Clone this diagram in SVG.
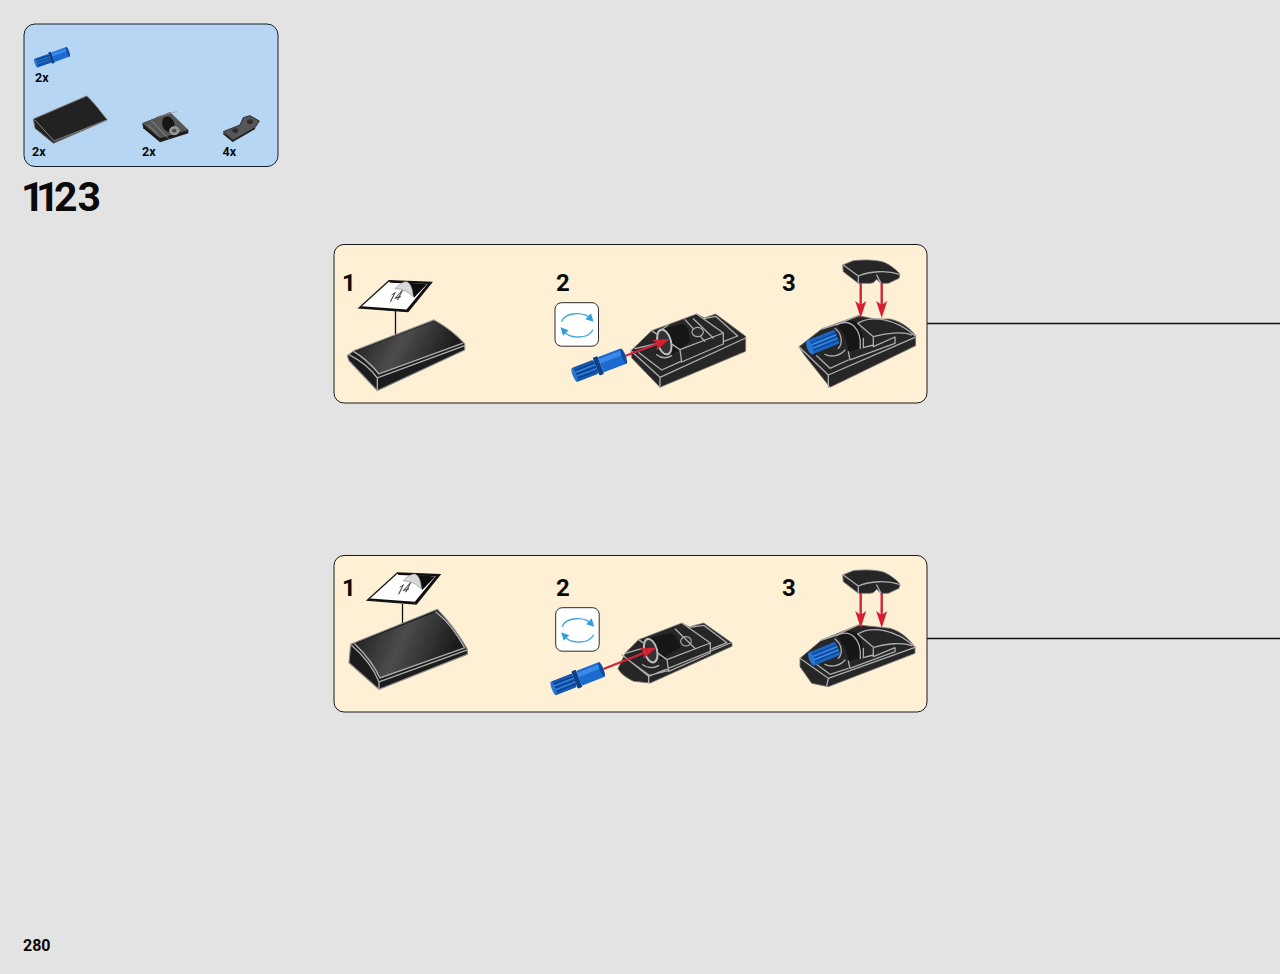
<svg xmlns="http://www.w3.org/2000/svg" width="1280" height="974" viewBox="0 0 1280 974">
<style>
text{font-family:Roboto,"Liberation Sans",Arial,sans-serif;font-weight:700;fill:#0a0a0a}
.qty{font-size:12.500px}
.num{font-size:24px}
.panel{fill:#fdf0d5;stroke:#1a1a1a;stroke-width:1}
.b{fill:#262626;stroke:#777;stroke-width:2.500;stroke-linejoin:round}
.e{fill:none;stroke:#adadad;stroke-width:4;stroke-linejoin:round;stroke-linecap:round}
.t{fill:none;stroke:#9a9a9a;stroke-width:2.500;stroke-linejoin:round;stroke-linecap:round}
.d{fill:#121212}
.soft{filter:url(#soft)}
.red{stroke:#d0263a;stroke-width:2.400;fill:none}
.conn{stroke:#111;stroke-width:1.400;fill:none}
.rot{fill:none;stroke:#3ea6de;stroke-width:1.300}
</style>
<defs>
<filter id="soft" x="-5%" y="-5%" width="110%" height="110%"><feGaussianBlur stdDeviation="0.4"/></filter>
<linearGradient id="sl" x1="0" y1="0" x2="1" y2="0.25"><stop offset="0" stop-color="#1a1a1a"/><stop offset=".5" stop-color="#4c4c4c"/><stop offset="1" stop-color="#1a1a1a"/></linearGradient>
<polygon id="head" points="0,0 -17,-5.500 -13,0 -17,5.500" fill="#d61f33"/>
<g id="pin">
<rect x="2" y="-11" width="42" height="22" rx="3" fill="#1258b0"/>
<path d="M4-6H44M4 0H44M4 6H44" stroke="#0a3d80" stroke-width="1.600"/>
<path d="M4-3H44M4 3H44" stroke="#3d88e2" stroke-width="1.600"/>
<ellipse cx="3" cy="0" rx="3.500" ry="11" fill="#2a74d2"/>
<rect x="44" y="-14" width="9" height="28" rx="2" fill="#0b3f88"/>
<rect x="53" y="-12" width="44" height="24" rx="2" fill="#1a6ad0"/>
<rect x="53" y="-9" width="44" height="7" fill="#3a8ae8"/>
<ellipse cx="97" cy="0" rx="3.500" ry="12" fill="#0d4da0"/>
</g>
<g id="stub">
<rect x="2" y="-8" width="32" height="16" rx="2" fill="#1a63c2"/>
<path d="M4-4H34M4 0H34M4 4H34" stroke="#0b4490" stroke-width="1.200"/>
<path d="M4-2H34M4 2H34" stroke="#4a94ea" stroke-width="1"/>
<ellipse cx="2.500" cy="0" rx="3" ry="8" fill="#2a74d2"/>
</g>
<g id="rotate">
<rect x="0" y="0" width="43.500" height="43.500" rx="6.500" fill="#fff" stroke="#2a2a2a" stroke-width="1"/>
<path class="rot" d="M6.500 19C10 9.500 29 8 37 17"/>
<polygon points="38.500,19 30.500,16.500 36,10.500" fill="#2f9fdc"/>
<path class="rot" d="M38 27C33.500 36 14.500 37.500 7 27"/>
<polygon points="5.500,24.500 13.500,27.500 8,33" fill="#2f9fdc"/>
</g>
<g id="cap">
<path class="b" d="M203 45L235 32C270 28 310 30 330 38C350 48 365 60 375 72L372 85L340 100H318L305 88L295 98L285 100H250L205 65Z"/>
<path class="e" d="M205 45L250 78C285 64 335 60 374 73M250 78V100M305 75L318 100"/>
</g>
<g id="sticker">
<polygon points="30,0 72.700,1.600 49,31 0,27.300" fill="#fff" stroke="#1a1a1a" stroke-width="1.300"/>
<polygon points="30,0 72.700,1.600 49,31 0,27.300 3,25.500 47.500,28.800 68.500,3.300 31,2" fill="#111"/>
<polygon points="50,2 68,3.600 55,17" fill="#111"/>
<path d="M36 8C40 3 45 .500 48 1C52 3 54 9 54 16C49 11 44 8 36 8Z" fill="#d9d9d9" stroke="#777" stroke-width=".5"/>
<text transform="matrix(.74 -.2 -.45 .9 28 22)" font-size="15" style="font-weight:400;fill:#333;stroke:#333;stroke-width:.25">14</text>
</g>
<g id="brick-top">
<path class="b" d="M18 128L80 68L215 18L238 30L272 18L362 85V130L105 238L20 150Z"/>
<path class="d" d="M105 65L175 48C188 58 195 78 195 100L140 142C140 110 125 80 105 65Z"/>
<path class="e" d="M18 128L105 208L362 90M105 208V238M80 68L165 125L295 75L215 18M165 125L170 162L295 108V75M238 32L272 25L338 84L297 100M30 122L90 108M42 134L110 186L168 160"/>
<path class="e" d="M180 35L240 100M205 32L265 90M100 72L130 50"/>
<ellipse cx="218" cy="72" rx="17" ry="14" fill="#2a2a2a" stroke="#adadad" stroke-width="3.500"/>
<path class="e" d="M95 140C110 152 125 152 140 143"/>
<ellipse cx="118" cy="102" rx="20" ry="38" transform="rotate(-15 118 102)" fill="#333" stroke="#bdbdbd" stroke-width="6"/>
</g>
<g id="brick-low">
<path class="b" d="M18 152L40 105L80 65L210 15L232 27L275 15L360 75V85L115 195L65 190C45 180 28 170 18 152Z"/>
<path class="d" d="M105 62L178 45C192 55 203 70 205 88L145 125C140 98 125 75 105 62Z"/>
<path class="e" d="M30 110L110 175L356 75M110 175V194M80 65L165 125L295 75L210 15M165 125L170 160L295 105V75M232 28L275 22L345 74L300 92M40 106L88 92M48 125L112 172L168 158"/>
<ellipse cx="222" cy="70" rx="16" ry="14" fill="#2a2a2a" stroke="#adadad" stroke-width="3.500"/>
<path class="e" d="M190 33L250 92M92 140C105 150 125 152 140 143"/>
<ellipse cx="116" cy="98" rx="19" ry="36" transform="rotate(-15 116 98)" fill="#333" stroke="#bdbdbd" stroke-width="6"/>
</g>
</defs>

<rect width="1280" height="974" fill="#e3e3e3"/>

<g id="parts-panel">
<rect x="24" y="24" width="254" height="142.500" rx="11" fill="#b7d6f3" stroke="#15202b" stroke-width="1"/>
<g id="part-pin" class="soft"><use href="#pin" transform="translate(35 63.500) rotate(-19.500) scale(.36 .42)"/></g>
<text class="qty" x="35" y="81.500">2x</text>
<g id="part-slope" class="soft"><g transform="translate(10 15) scale(.3333)">
<path d="M70 312L230 243C255 265 275 295 292 315L130 385L75 340Z" fill="#242424" stroke="#777" stroke-width="3"/>
<path class="t" d="M75 315L132 378L288 316"/>
</g></g>
<text class="qty" x="32" y="156">2x</text>
<g id="part-plate" class="soft"><g transform="translate(10 15) scale(.3333)">
<path d="M397 325L480 292L535 345V355L450 382L400 340Z" fill="#1f1f1f"/>
<path d="M397 325L480 292L535 345L450 370Z" fill="#565656"/>
<path class="t" d="M425 318L475 370M440 305L500 290M490 300L530 340M415 330L445 360"/>
<ellipse cx="475" cy="328" rx="18" ry="24" transform="rotate(-20 475 328)" fill="#141414"/>
<ellipse cx="493" cy="347" rx="14" ry="12" fill="#8b8b8b" stroke="#ccc" stroke-width="2"/>
<ellipse cx="493" cy="347" rx="6" ry="5" fill="#444"/>
</g></g>
<text class="qty" x="142" y="156">2x</text>
<g id="part-small" class="soft"><g transform="translate(10 15) scale(.3333)">
<path d="M640 350L690 330L700 308L720 302L748 318L735 338L670 378Z" fill="#575757" stroke="#2a2a2a" stroke-width="3"/>
<path d="M640 355L668 378L735 340" fill="none" stroke="#222" stroke-width="5"/>
<ellipse cx="676" cy="347" rx="9" ry="7" fill="#2e2e2e"/>
<ellipse cx="720" cy="320" rx="9" ry="7" fill="#2e2e2e"/>
</g></g>
<text class="qty" x="222.500" y="156">4x</text>
</g>

<text id="step-number" x="21 36 54 77.500" y="211" font-size="41">1123</text>

<g id="connectors">
<path class="conn" d="M927 323.500H1280"/>
<path class="conn" d="M927 638.500H1280"/>
</g>

<g id="callout-1">
<rect class="panel" x="334" y="244.500" width="593" height="158.500" rx="10"/>
<text class="num" x="342" y="291">1</text>
<text class="num" x="556" y="291">2</text>
<text class="num" x="782" y="291">3</text>
<use class="soft" href="#sticker" transform="translate(359 280.700)"/>
<path d="M395.500 311V335" stroke="#111" stroke-width="1.300"/>
<g class="soft"><g transform="translate(334 244) scale(.3333)">
<path d="M40 335L60 320L300 228C340 250 375 280 392 300V318L130 440L45 350Z" fill="#1c1c1c" stroke="#8a8a8a" stroke-width="3.500"/>
<path d="M60 325L135 390L385 298C355 270 330 250 300 232Z" fill="url(#sl)"/>
<path class="e" d="M45 332C80 350 110 375 130 402L392 305M58 322C90 340 115 365 135 390L385 298M130 402V438"/>
</g></g>
<use href="#rotate" transform="translate(555 302.700)"/>
<g class="soft">
<g transform="translate(625 308) scale(.3333)"><use href="#brick-top"/></g>
<use href="#pin" transform="translate(573 375.500) rotate(-21) scale(.56 .68)"/>
</g>
<path class="red" d="M625 356L658 343.500"/>
<use href="#head" transform="translate(670 339) rotate(-21)"/>
<g class="soft"><g transform="translate(795 305) scale(.3333)">
<path class="b" d="M12 125L80 72L190 32L240 42L285 42C320 50 345 70 362 92V122L105 247L28 150Z"/>
<path class="d" d="M125 60C155 42 175 45 188 55C200 75 205 100 205 125L160 140C160 110 145 80 125 60Z"/>
<path class="e" d="M12 125L100 210L360 97M100 210V247M80 72L125 58L190 32M188 55C230 30 300 40 360 92M188 55L235 95C270 85 320 78 350 90M235 95V125L300 96V115L165 165L160 140M205 100V128L235 120M125 60C165 38 200 68 196 130M120 70C140 85 145 115 130 130M90 148C110 158 135 152 150 135M65 152L105 190L160 165"/>
<use href="#stub" transform="translate(38 130) rotate(-22) scale(2.800)"/>
</g></g>
<g class="soft"><g transform="translate(775 250) scale(.3333)"><use href="#cap"/></g></g>
<path class="red" d="M860.700 283V306M881.700 283V306"/>
<use href="#head" transform="translate(860.700 318) rotate(90)"/>
<use href="#head" transform="translate(881.700 318) rotate(90)"/>
</g>

<g id="callout-2">
<rect class="panel" x="334" y="555.500" width="593" height="156.500" rx="10"/>
<text class="num" x="342" y="596">1</text>
<text class="num" x="556" y="596">2</text>
<text class="num" x="782" y="596">3</text>
<use class="soft" href="#sticker" transform="translate(367.300 573)"/>
<path d="M402.500 604V626" stroke="#111" stroke-width="1.300"/>
<g class="soft"><g transform="translate(334 556) scale(.3333)">
<path d="M50 265L310 160C345 195 380 245 400 280V295L135 400L45 320Z" fill="#1c1c1c" stroke="#8a8a8a" stroke-width="3.500"/>
<path d="M62 265L138 368L392 278C370 235 340 195 306 168Z" fill="url(#sl)"/>
<path class="e" d="M52 267C90 300 120 340 135 378L400 282M62 263C95 295 122 330 138 366L392 276M135 378V398M306 168C340 195 370 235 392 276"/>
</g></g>
<use href="#rotate" transform="translate(555.700 607.700)"/>
<g class="soft">
<g transform="translate(612 618) scale(.3333)"><use href="#brick-low"/></g>
<use href="#pin" transform="translate(552 689) rotate(-21.500) scale(.55 .66)"/>
</g>
<path class="red" d="M603.500 669L645 652.500"/>
<use href="#head" transform="translate(657 647.500) rotate(-21)"/>
<g class="soft"><g transform="translate(795 615) scale(.3333)">
<path class="b" d="M15 130L80 75L190 30L285 40C320 50 345 75 360 97V115L100 215L50 205L15 155Z"/>
<path class="d" d="M125 62C155 44 175 47 188 57C200 75 205 100 205 125L160 138C160 110 145 82 125 62Z"/>
<path class="e" d="M15 130L100 190L360 97M100 190L95 213M80 75L125 60L190 30M188 57C230 32 300 42 360 95M188 57L235 97C270 87 320 80 350 92M235 97V125L300 98V110L165 160L160 138M205 100V128L235 120M125 62C165 40 200 70 196 130M120 72C140 87 145 115 130 130M90 148C110 158 135 152 150 135M60 145L105 178L160 160"/>
<use href="#stub" transform="translate(44 134) rotate(-22) scale(2.700)"/>
</g></g>
<g class="soft"><g transform="translate(775 560) scale(.3333)"><use href="#cap"/></g></g>
<path class="red" d="M860.700 593V616M881.700 593V616"/>
<use href="#head" transform="translate(860.700 628) rotate(90)"/>
<use href="#head" transform="translate(881.700 628) rotate(90)"/>
</g>

<text id="page-number" x="23" y="951" font-size="16">280</text>
</svg>
